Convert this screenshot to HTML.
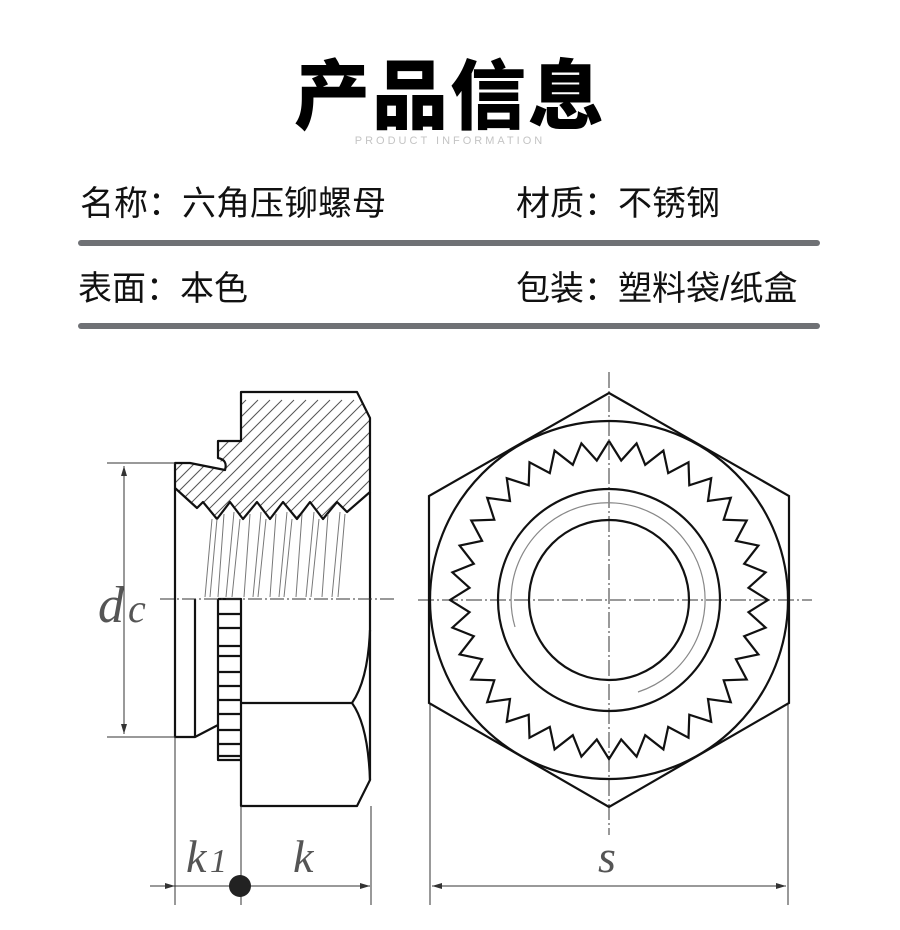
<!DOCTYPE html>
<html><head><meta charset="utf-8"><style>
body{margin:0;width:900px;height:930px;background:#fff;overflow:hidden;position:relative;font-family:"Liberation Sans","Noto Sans CJK SC",sans-serif}
.t{position:absolute;font-size:34px;color:#111;white-space:nowrap;line-height:1}
.bar{position:absolute;left:78px;width:742px;height:6px;border-radius:3px;background:#6f7175}
</style></head><body>
<div style="position:absolute;left:0;width:900px;top:52px;text-align:center;font-size:76px;font-weight:900;color:#000;line-height:1;font-family:'Noto Sans CJK SC',sans-serif;letter-spacing:2px">产品信息</div>
<div style="position:absolute;left:0;width:900px;top:135px;text-align:center;font-size:11px;color:#c4c4c4;letter-spacing:3px">PRODUCT INFORMATION</div>
<div class="t" style="left:80px;top:187px">名称：六角压铆螺母</div>
<div class="t" style="left:516px;top:187px">材质：不锈钢</div>
<div class="bar" style="top:240px"></div>
<div class="t" style="left:78px;top:272px">表面：本色</div>
<div class="t" style="left:516px;top:272px">包装：塑料袋/纸盒</div>
<div class="bar" style="top:323px"></div>
<svg width="900" height="930" style="position:absolute;left:0;top:0" xmlns="http://www.w3.org/2000/svg">
<defs>
<clipPath id="hc"><path d="M241,392 L357,392 L370,418 L370,492 L347,512 L337,502 L323,519 L310,502 L297,519 L283,502 L270,519 L257,502 L243,519 L230,502 L217,519 L203,502 L197,508 L175,488 L175,463 L190,463 L227,470 L218,458 L218,441 L241,441 Z"/></clipPath>
<marker id="ar" viewBox="0 0 10 6" refX="10" refY="3" markerWidth="14" markerHeight="6" orient="auto-start-reverse" markerUnits="userSpaceOnUse"><path d="M0,0 L10,3 L0,6 Z" fill="#333"/></marker>
</defs>
<g clip-path="url(#hc)" stroke="#555" stroke-width="1">
<path d="M150,520 L270,400 M162,520 L282,400 M174,520 L294,400 M186,520 L306,400 M198,520 L318,400 M210,520 L330,400 M222,520 L342,400 M234,520 L354,400 M246,520 L366,400 M258,520 L378,400 M270,520 L390,400 M282,520 L402,400 M294,520 L414,400 M306,520 L426,400 M318,520 L438,400 M330,520 L450,400 M342,520 L462,400 M354,520 L474,400 M138,520 L258,400 M126,520 L246,400"/>
</g>
<g fill="none" stroke="#111" stroke-width="2.2" stroke-linejoin="round">
<path d="M241,392 L357,392 L370,418 L370,492 L347,512 L337,502 L323,519 L310,502 L297,519 L283,502 L270,519 L257,502 L243,519 L230,502 L217,519 L203,502 L197,508 L175,488 L175,463 L190,463 Q215,468 225,470 Q228,460 218,458 L218,441 L241,441 Z"/>
<path d="M370,492 L370,599"/>
<path d="M175,488 L175,737 L195,737 L218,725"/>
<path d="M195,599 L195,737"/>
<path d="M218,599 L241,599 L241,806 L357,806 L370,780 L370,599"/>
<path d="M218,599 L218,760 L241,760"/>
<path d="M218,614 L241,614 M218,628 L241,628 M218,646 L241,646 M218,656 L241,656 M218,672 L241,672 M218,686 L241,686 M218,700 L241,700 M218,714 L241,714 M218,730 L241,730 M218,744 L241,744 M218,756 L241,756"/>
<path d="M241,703 L352,703 Q368,680 370,630 M352,703 Q368,725 370,780"/>
</g>
<g stroke="#777" stroke-width="1">
<path d="M205,597 L212,519 M210,597 L217,519 M226,597 L234,512 M232,597 L240,519 M253,597 L261,512 M258,597 L266,519 M279,597 L287,512 M284,597 L292,519 M306,597 L314,512 M311,597 L319,519 M332,597 L340,512 M338,597 L345,514 M218,597 L224,514 M244,597 L250,514 M270,597 L276,514 M296,597 L302,514 M322,597 L328,514"/>
</g>
<g stroke="#333" stroke-width="1" fill="none">
<path d="M160,599 L395,599" stroke-dasharray="14,3,2,3"/>
<path d="M107,463 L175,463 M107,737 L175,737"/>
<path d="M124,466 L124,734" marker-start="url(#ar)" marker-end="url(#ar)"/>
<path d="M175,737 L175,905 M241,806 L241,905 M371,806 L371,905"/>
<path d="M150,886 L175,886" marker-end="url(#ar)"/>
<path d="M241,886 L370,886" marker-end="url(#ar)"/>
<path d="M175,886 L241,886"/>
<path d="M430,703 L430,905 M788,703 L788,905"/>
<path d="M432,886 L786,886" marker-start="url(#ar)" marker-end="url(#ar)"/>
<path d="M609,372 L609,835 M418,600 L812,600" stroke-dasharray="16,3,2,3"/>
</g>
<circle cx="240" cy="886" r="11" fill="#222"/>
<g fill="none" stroke="#111" stroke-width="2.2">
<polygon points="609,393 789,496 789,703 609,807 429,703 429,496"/>
<circle cx="609" cy="600" r="179"/>
<circle cx="609" cy="600" r="111"/>
<circle cx="609" cy="600" r="80"/>
</g>
<path d="M515,627 A97,97 0 1 1 638,692" fill="none" stroke="#888" stroke-width="1.2"/>
<g font-family="Liberation Serif,serif" font-style="italic" fill="#555">
<text x="98" y="622" font-size="52">d</text><text x="128" y="622" font-size="40">c</text>
<text x="186" y="872" font-size="46">k</text><text x="210" y="872" font-size="34">1</text>
<text x="293" y="872" font-size="46">k</text>
<text x="598" y="872" font-size="46">s</text>
</g>
<polyline id="tp" points="" fill="none" stroke="#111" stroke-width="2.2" stroke-linejoin="miter"/>
</svg>
<script>
(function(){var cx=609,cy=600,n=36,ri=140,ro=159,p=[];for(var i=0;i<=n*2;i++){var a=Math.PI*2*i/(2*n)-Math.PI/2;var r=i%2?ri:ro;p.push((cx+r*Math.cos(a)).toFixed(1)+","+(cy+r*Math.sin(a)).toFixed(1));}
document.getElementById('tp').setAttribute('points',p.join(' '));})();
</script>
</body></html>
